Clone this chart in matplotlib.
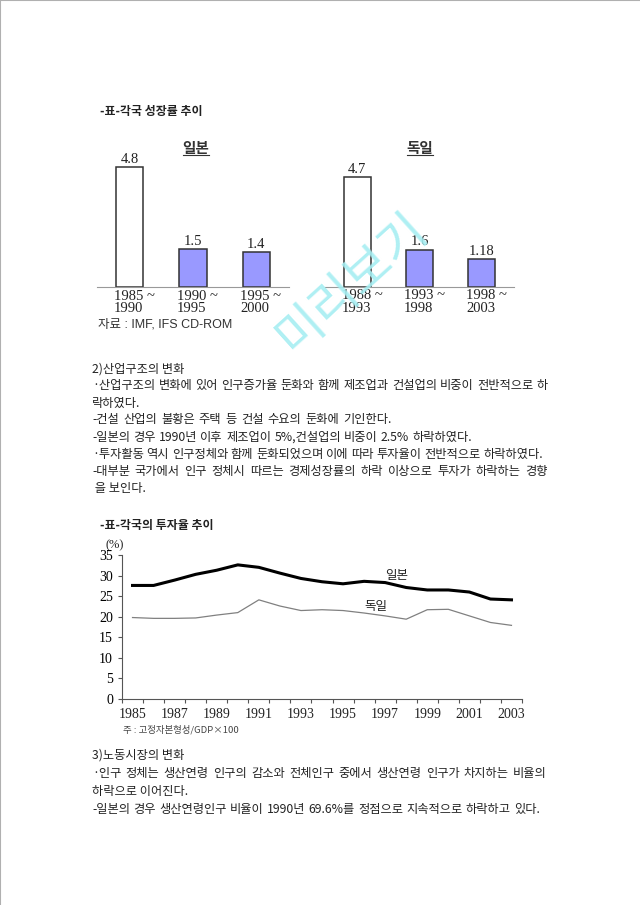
import numpy as np
import matplotlib
matplotlib.use("Agg")
from matplotlib import pyplot as plt
from matplotlib.lines import Line2D

plt.rcParams['font.family'] = ['Noto Sans CJK KR', 'DejaVu Sans']

# growth rate bars
jp_periods = ['1985 ~\n1990', '1990 ~\n1995', '1995 ~\n2000']
jp_growth = [4.8, 1.5, 1.4]
de_periods = ['1988 ~\n1993', '1993 ~\n1998', '1998 ~\n2003']
de_growth = [4.7, 1.6, 1.18]

# investment ratio lines
years = list(range(1985, 2004))
jp_invest = [27.6, 27.6, 28.9, 30.3, 31.3, 32.6, 32.0, 30.6, 29.3, 28.5,
             28.0, 28.6, 28.3, 27.1, 26.5, 26.5, 26.0, 24.3, 24.1]
de_invest = [19.8, 19.6, 19.6, 19.7, 20.4, 21.0, 24.1, 22.6, 21.5, 21.7,
             21.5, 20.9, 20.2, 19.4, 21.7, 21.8, 20.2, 18.6, 17.9]
y_ticks = [0, 5, 10, 15, 20, 25, 30, 35]
x_labels = [1985, 1987, 1989, 1991, 1993, 1995, 1997, 1999, 2001, 2003]

body1 = [
    ('2)산업구조의 변화', None),
    ('·산업구조의 변화에 있어 인구증가율 둔화와 함께 제조업과 건설업의 비중이 전반적으로 하', 548),
    ('락하였다.', None),
    ('-건설 산업의 불황은 주택 등 건설 수요의 둔화에 기인한다.', 392),
    ('-일본의 경우 1990년 이후 제조업이 5%,건설업의 비중이 2.5% 하락하였다.', 472),
    ('·투자활동 역시 인구정체와 함께 둔화되었으며 이에 따라 투자율이 전반적으로 하락하였다.', 543),
    ('-대부분 국가에서 인구 정체시 따르는 경제성장률의 하락 이상으로 투자가 하락하는 경향', 548),
    (' 을 보인다.', None),
]
body2 = [
    ('3)노동시장의 변화', None),
    ('·인구 정체는 생산연령 인구의 감소와 전체인구 중에서 생산연령 인구가 차지하는 비율의', 547),
    ('하락으로 이어진다.', None),
    ('-일본의 경우 생산연령인구 비율이 1990년 69.6%를 정점으로 지속적으로 하락하고 있다.', 540),
]

W, H = 640, 905
fig = plt.figure(figsize=(W / 100, H / 100), dpi=100)
renderer = fig.canvas.get_renderer()

serif = ['Liberation Serif', 'Noto Sans CJK KR']


def ax_at(l, t, r, b):
    return fig.add_axes([l / W, 1 - b / H, (r - l) / W, (b - t) / H])


def txt(x, y, s, **kw):
    kw.setdefault('va', 'center')
    return fig.text(x / W, 1 - y / H, s, **kw)


def put_line(x, y, s, right=None, **kw):
    # spread words so the line ends where it does on the page
    if right is None or ' ' not in s.strip():
        return txt(x, y, s, **kw)
    words = s.split(' ')
    parts = [txt(x, y, w, **kw) for w in words]
    widths = [p.get_window_extent(renderer).width for p in parts]
    gap = (right - x - sum(widths)) / (len(words) - 1)
    cur = x
    for p, w in zip(parts, widths):
        p.set_position((cur / W, 1 - y / H))
        cur += w + gap


# page edge
fig.add_artist(Line2D([0, 0], [0, 1], color='#b0b0b0', lw=1.5))
fig.add_artist(Line2D([0, 1], [1, 1], color='#b0b0b0', lw=1.5))

# ---- growth rate chart ----
txt(100, 112, '-표-각국 성장률 추이', fontsize=8.6, color='#222', weight='bold')


def growth_panel(ax, periods, values, ytop, title, tx):
    xs = np.arange(len(values))
    colors = ['white'] + ['#9999ff'] * (len(values) - 1)
    ax.bar(xs, values, width=0.43, color=colors, edgecolor='#333333', lw=1.1)
    for x, v in zip(xs, values):
        ax.text(x, v + 0.05, str(v), ha='center', va='bottom', fontsize=10.5,
                family=serif, color='#222')
    for x, lab in zip(xs, periods):
        ax.text(x - 0.25, -0.1, lab, ha='left', va='top', fontsize=10.5,
                family=serif, color='#222', linespacing=0.95)
    ax.set_xlim(-0.52, 2.52)
    ax.set_ylim(0, ytop)
    for s in ['top', 'right', 'left']:
        ax.spines[s].set_visible(False)
    ax.spines['bottom'].set_color('#999999')
    ax.set_xticks([])
    ax.set_yticks([])
    ax.patch.set_alpha(0)
    t = txt(tx, 148, title, fontsize=10.5, weight='bold', color='#333', ha='center')
    w = t.get_window_extent(renderer).width
    fig.add_artist(Line2D([(tx - w / 2) / W, (tx + w / 2) / W],
                          [1 - 155 / H, 1 - 155 / H], color='#333', lw=0.8))


growth_panel(ax_at(97, 147, 289, 287), jp_periods, jp_growth, 5.6, '일본', 196)
growth_panel(ax_at(325, 147, 514, 287), de_periods, de_growth, 5.98, '독일', 420)
txt(98, 324, '자료 : IMF, IFS CD-ROM', fontsize=9, color='#333',
    family=['Liberation Sans', 'Noto Sans CJK KR'])

# ---- body text 1 ----
for i, (s, r) in enumerate(body1):
    put_line(92, 369 + i * 17, s, r, fontsize=8.8, color='#222')

# ---- investment ratio chart ----
txt(100, 525, '-표-각국의 투자율 추이', fontsize=8.6, color='#222', weight='bold')
ax = ax_at(122, 555, 522, 699)
ax.plot(years, jp_invest, color='black', lw=2.2)
ax.plot(years, de_invest, color='#808080', lw=0.9)
ax.set_xlim(1984.5, 2003.5)
ax.set_ylim(0, 35)
ax.set_yticks(y_ticks)
ax.set_xticks(np.arange(1984.5, 2004, 1.0))
ax.set_xticklabels([])
ax.tick_params(axis='both', length=3, width=0.8, color='#555', labelsize=10)
for y_lab in x_labels:
    ax.text(y_lab, -2.3, str(y_lab), ha='center', va='top', fontsize=10,
            family=serif, color='#222')
for lab in ax.get_yticklabels():
    lab.set_family(serif)
ax.spines['top'].set_visible(False)
ax.spines['right'].set_visible(False)
ax.spines['left'].set_color('#555')
ax.spines['bottom'].set_color('#555')
ax.text(1997.0, 29.9, '일본', fontsize=9, color='#222', va='center')
ax.text(1996.0, 22.5, '독일', fontsize=9, color='#222', va='center')
txt(106, 545, '(%)', fontsize=9, family=serif, color='#222')
txt(123, 730, '주 : 고정자본형성/GDP×100', fontsize=6.8, color='#444')

# ---- body text 2 ----
for i, (s, r) in enumerate(body2):
    put_line(92, 755 + i * 18, s, r, fontsize=8.8, color='#222')

# watermark
txt(352, 283, '미리보기', fontsize=36, color='#a6eef2', ha='center',
    rotation=42, alpha=0.9, zorder=10)

fig.savefig('out.png', dpi=100)
